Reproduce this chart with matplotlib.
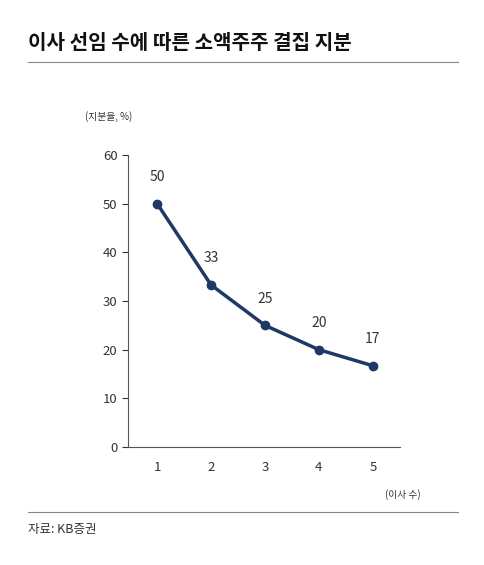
import matplotlib.pyplot as plt
from matplotlib.lines import Line2D

plt.rcParams['font.family'] = ['Noto Sans CJK KR', 'DejaVu Sans']

directors = [1, 2, 3, 4, 5]
stake = [50, 33.3, 25, 20, 16.7]
stake_labels = ["50", "33", "25", "20", "17"]
yticks = [0, 10, 20, 30, 40, 50, 60]

navy = "#1f3864"
grey = "#333333"

fig = plt.figure(figsize=(4.84, 5.65), dpi=100)
ax = fig.add_axes([0.2645, 0.2088, 0.5615, 0.5169])

ax.plot(directors, stake, color=navy, linewidth=2.5, marker="o", markersize=6)
for x, y, s in zip(directors, stake, stake_labels):
    ax.text(x, y + 4, s, ha="center", va="bottom", fontsize=10, color=grey)

ax.set_xlim(0.46, 5.5)
ax.set_ylim(0, 60)
ax.set_xticks(directors)
ax.set_yticks(yticks)
ax.tick_params(labelsize=9.5, colors=grey, length=4)
ax.tick_params(axis="x", length=0, pad=10)
for side in ["top", "right"]:
    ax.spines[side].set_visible(False)
for side in ["left", "bottom"]:
    ax.spines[side].set_color("#555555")

fig.text(0.058, 0.925, "이사 선임 수에 따른 소액주주 결집 지분", fontsize=14.5,
         fontweight="bold", va="center", color="#111111")
fig.add_artist(Line2D([0.058, 0.946], [0.890, 0.890], color="#888888", linewidth=0.8))
fig.text(0.175, 0.793, "(지분율, %)", fontsize=7, va="center", color=grey)
fig.text(0.795, 0.125, "(이사 수)", fontsize=7, va="center", color=grey)
fig.add_artist(Line2D([0.058, 0.946], [0.094, 0.094], color="#888888", linewidth=0.8))
fig.text(0.058, 0.062, "자료: KB증권", fontsize=9, va="center", color=grey)

fig.savefig("out.png", dpi=100)
